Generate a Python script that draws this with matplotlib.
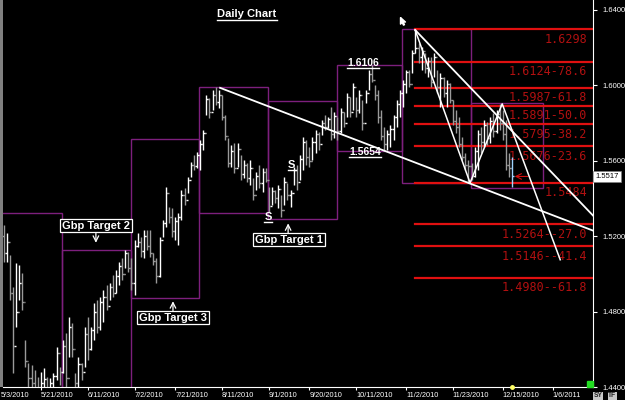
import numpy as np
import pandas as pd
import matplotlib
matplotlib.use("Agg")
import matplotlib.pyplot as plt
import matplotlib.transforms as mtransforms
from matplotlib.lines import Line2D
from matplotlib.patches import Rectangle

plt.rcParams['font.family'] = ['Liberation Sans', 'DejaVu Sans']

# GBP/USD daily bars, one per weekday counted from 5/3/2010
start_date = "2010-05-03"
first_bar = 2

highs = [1.5261, 1.5218, 1.5102, 1.4932, 1.5059, 1.5049, 1.5006, 1.4651, 1.4529, 1.4518,
         1.4492, 1.4455, 1.4481, 1.4503, 1.4455, 1.4450, 1.4476, 1.4614, 1.4508, 1.4651,
         1.4688, 1.4773, 1.4741, 1.4476, 1.4561, 1.4529, 1.4720, 1.4773, 1.4720, 1.4847,
         1.4863, 1.4879, 1.4916, 1.4942, 1.4953, 1.4996, 1.5022, 1.5064, 1.5086, 1.5128,
         1.5117, 1.5086, 1.5181, 1.5218, 1.5197, 1.5234, 1.5234, 1.5234, 1.5112, 1.5086,
         1.5197, 1.5287, 1.5462, 1.5356, 1.5351, 1.5303, 1.5324, 1.5446, 1.5457, 1.5515,
         1.5594, 1.5632, 1.5647, 1.5711, 1.5764, 1.5950, 1.5934, 1.5976, 1.5992, 1.5976,
         1.5950, 1.5844, 1.5722, 1.5685, 1.5695, 1.5695, 1.5632, 1.5605, 1.5589, 1.5605,
         1.5510, 1.5541, 1.5578, 1.5563, 1.5563, 1.5462, 1.5462, 1.5446, 1.5473, 1.5420,
         1.5515, 1.5483, 1.5446, 1.5568, 1.5578, 1.5632, 1.5727, 1.5711, 1.5674, 1.5727,
         1.5764, 1.5753, 1.5817, 1.5844, 1.5833, 1.5886, 1.5859, 1.5833, 1.5881, 1.5859,
         1.5960, 1.5939, 1.6013, 1.5939, 1.5976, 1.5923, 1.5976, 1.6082, 1.6106, 1.6003,
         1.5976, 1.5870, 1.5780, 1.5764, 1.5791, 1.5844, 1.5923, 1.5976, 1.6029, 1.6082,
         1.6082, 1.6188, 1.6298, 1.6225, 1.6204, 1.6172, 1.6151, 1.6151, 1.6172, 1.6082,
         1.6066, 1.6045, 1.6029, 1.6013, 1.5923, 1.5870, 1.5833, 1.5727, 1.5642, 1.5605,
         1.5589, 1.5674, 1.5764, 1.5780, 1.5817, 1.5806, 1.5833, 1.5854, 1.5870, 1.5902,
         1.5870, 1.5817, 1.5642, 1.5621]
lows = [1.5064, 1.5064, 1.4863, 1.4476, 1.4720, 1.4863, 1.4810, 1.4508, 1.4380, 1.4330,
        1.4280, 1.4229, 1.4300, 1.4320, 1.4350, 1.4360, 1.4340, 1.4439, 1.4413, 1.4476,
        1.4350, 1.4561, 1.4561, 1.4370, 1.4386, 1.4439, 1.4508, 1.4545, 1.4598, 1.4651,
        1.4688, 1.4704, 1.4746, 1.4810, 1.4863, 1.4879, 1.4900, 1.4942, 1.4969, 1.5033,
        1.5011, 1.4916, 1.4890, 1.5144, 1.5091, 1.5086, 1.5128, 1.5091, 1.5049, 1.4953,
        1.4985, 1.5197, 1.5250, 1.5271, 1.5197, 1.5181, 1.5155, 1.5287, 1.5366, 1.5430,
        1.5515, 1.5552, 1.5563, 1.5552, 1.5658, 1.5844, 1.5828, 1.5870, 1.5897, 1.5881,
        1.5817, 1.5711, 1.5568, 1.5568, 1.5536, 1.5568, 1.5499, 1.5510, 1.5488, 1.5473,
        1.5393, 1.5446, 1.5457, 1.5435, 1.5488, 1.5329, 1.5366, 1.5377, 1.5351, 1.5303,
        1.5366, 1.5393, 1.5356, 1.5473, 1.5446, 1.5499, 1.5552, 1.5578, 1.5568, 1.5605,
        1.5642, 1.5658, 1.5738, 1.5764, 1.5775, 1.5711, 1.5722, 1.5711, 1.5748, 1.5780,
        1.5833, 1.5833, 1.5870, 1.5833, 1.5854, 1.5764, 1.5907, 1.5976, 1.6018, 1.5923,
        1.5801, 1.5711, 1.5654, 1.5658, 1.5674, 1.5711, 1.5780, 1.5833, 1.5886, 1.5960,
        1.5992, 1.6066, 1.6172, 1.6119, 1.6082, 1.6066, 1.6045, 1.5992, 1.6045, 1.5960,
        1.5886, 1.5939, 1.5886, 1.5907, 1.5791, 1.5748, 1.5674, 1.5605, 1.5552, 1.5484,
        1.5499, 1.5515, 1.5552, 1.5642, 1.5674, 1.5685, 1.5695, 1.5727, 1.5748, 1.5764,
        1.5711, 1.5552, 1.5515, 1.5462]
closes = [1.5110, 1.5170, 1.4900, 1.4620, 1.4800, 1.4950, 1.4850, 1.4540, 1.4450, 1.4420,
          1.4380, 1.4350, 1.4420, 1.4440, 1.4390, 1.4420, 1.4460, 1.4580, 1.4480, 1.4620,
          1.4450, 1.4720, 1.4600, 1.4420, 1.4520, 1.4480, 1.4680, 1.4600, 1.4700, 1.4800,
          1.4720, 1.4850, 1.4880, 1.4830, 1.4930, 1.4900, 1.4990, 1.5040, 1.5000, 1.5110,
          1.5030, 1.4950, 1.5150, 1.5170, 1.5120, 1.5200, 1.5150, 1.5110, 1.5070, 1.4990,
          1.5180, 1.5270, 1.5430, 1.5300, 1.5230, 1.5280, 1.5300, 1.5420, 1.5390, 1.5500,
          1.5580, 1.5570, 1.5630, 1.5690, 1.5750, 1.5930, 1.5860, 1.5950, 1.5910, 1.5950,
          1.5830, 1.5730, 1.5590, 1.5650, 1.5560, 1.5660, 1.5530, 1.5580, 1.5510, 1.5560,
          1.5420, 1.5520, 1.5480, 1.5540, 1.5500, 1.5360, 1.5440, 1.5400, 1.5450, 1.5340,
          1.5490, 1.5420, 1.5430, 1.5550, 1.5490, 1.5610, 1.5700, 1.5620, 1.5600, 1.5700,
          1.5740, 1.5690, 1.5800, 1.5780, 1.5820, 1.5740, 1.5840, 1.5760, 1.5860, 1.5800,
          1.5940, 1.5860, 1.5990, 1.5870, 1.5950, 1.5800, 1.5960, 1.6060, 1.6030, 1.5950,
          1.5830, 1.5730, 1.5690, 1.5740, 1.5770, 1.5830, 1.5900, 1.5960, 1.6010, 1.6070,
          1.6010, 1.6170, 1.6200, 1.6150, 1.6180, 1.6090, 1.6130, 1.6020, 1.6150, 1.5990,
          1.6040, 1.5960, 1.6010, 1.5920, 1.5810, 1.5780, 1.5690, 1.5620, 1.5580, 1.5570,
          1.5520, 1.5650, 1.5740, 1.5700, 1.5790, 1.5720, 1.5810, 1.5760, 1.5850, 1.5800,
          1.5740, 1.5580, 1.5560, 1.5517]
first_open = 1.5200
last_price = 1.5517

# monthly high/low boxes
months = ["2010-05", "2010-06", "2010-07", "2010-08", "2010-09", "2010-10", "2010-11", "2010-12"]
month_highs = [1.5324, 1.5128, 1.5716, 1.5992, 1.5918, 1.6106, 1.6298, 1.5907]
month_lows = [1.4229, 1.4350, 1.4874, 1.5324, 1.5292, 1.5654, 1.5484, 1.5457]

# fibonacci levels off the November swing
fib_levels = [1.6298, 1.6124, 1.5987, 1.5891, 1.5795, 1.5676, 1.5484, 1.5264, 1.5146, 1.4980]
fib_labels = ["1.6298", "1.6124-78.6", "1.5987-61.8", "1.5891-50.0", "1.5795-38.2",
              "1.5676-23.6", "1.5484", "1.5264--27.0", "1.5146--41.4", "1.4980--61.8"]

# hand drawn lines (bar index, price)
trend_a_x = [71.4, 191.0]
trend_a_y = [1.5987, 1.5229]
trend_b_x = [133.9, 191.0]
trend_b_y = [1.6294, 1.5308]
zigzag_x = [133.9, 151.5, 161.8, 180.4]
zigzag_y = [1.6294, 1.5483, 1.5902, 1.5075]

tick_dates = ["2010-05-03", "2010-05-21", "2010-06-11", "2010-07-02", "2010-07-21", "2010-08-11",
              "2010-09-01", "2010-09-20", "2010-10-11", "2010-11-02", "2010-11-23", "2010-12-15",
              "2011-01-06"]
price_ticks = [1.44, 1.48, 1.52, 1.56, 1.60, 1.64]

n = len(closes)
x = first_bar + np.arange(n)
highs = np.array(highs)
lows = np.array(lows)
closes = np.array(closes)
opens = np.concatenate([[first_open], closes[:-1]])

fig = plt.figure(figsize=(6.25, 4), dpi=100, facecolor="black")
ax = fig.add_axes([3 / 625, 13 / 400, 590 / 625, 387 / 400], facecolor="black")
xmin, xmax = 1.83, 190.9
ax.set_xlim(xmin, xmax)
ax.set_ylim(1.4400, 1.6453)

# left window border
fig.add_artist(Rectangle((0, 13 / 400), 3 / 625, 387 / 400, transform=fig.transFigure,
                         color="#808080", lw=0))

# month boxes
for m, hi, lo in zip(months, month_highs, month_lows):
    m_start = pd.Timestamp(m + "-01")
    m_end = m_start + pd.offsets.MonthBegin(1)
    left = np.busday_count(start_date, m_start.strftime("%Y-%m-%d")) - 0.25
    right = np.busday_count(start_date, m_end.strftime("%Y-%m-%d")) - 0.25
    ax.add_patch(Rectangle((left, lo), right - left, hi - lo, fill=False,
                           edgecolor="#7d1f7d", lw=1.0, zorder=1))

# OHLC bars
cols = np.where(closes >= opens, "#ffffff", "#9a9a9a").astype(object)
cols[-1] = "#9fd3ff"
ax.vlines(x, lows, highs, colors=list(cols), lw=1.0, zorder=3)
ax.hlines(opens, x - 0.5, x, colors=list(cols), lw=1.0, zorder=3)
ax.hlines(closes, x, x + 0.5, colors=list(cols), lw=1.0, zorder=3)

# fib lines
fib_start = x[np.argmax(highs)]
for lvl, lab in zip(fib_levels, fib_labels):
    ax.plot([fib_start, 191], [lvl, lvl], color="#e01010", lw=1.6, zorder=2)
    ax.annotate(lab, xy=(189.0, lvl), xytext=(0, -2.5), textcoords="offset points",
                ha="right", va="top", fontsize=8.5, color="#b01010",
                family="DejaVu Sans Mono", zorder=2)

# trend lines
ax.plot(trend_a_x, trend_a_y, color="white", lw=1.3, zorder=4)
ax.plot(trend_b_x, trend_b_y, color="white", lw=1.3, zorder=4)
ax.plot(zigzag_x, zigzag_y, color="white", lw=1.1, zorder=4)

# annotations
txt_kw = dict(color="white", fontsize=8, fontweight="bold", ha="center", va="center", zorder=5)
underlined = []
underlined.append(ax.text(80.0, 1.6378, "Daily Chart", **txt_kw))
underlined.append(ax.text(117.2, 1.6119, "1.6106", **{**txt_kw, "fontsize": 7.5}))
underlined.append(ax.text(117.8, 1.5647, "1.5654", **{**txt_kw, "fontsize": 7.5}))
underlined.append(ax.text(94.4, 1.5578, "S", **txt_kw))
underlined.append(ax.text(86.8, 1.5303, "S", **txt_kw))

box = dict(boxstyle="square,pad=0.15", facecolor="black", edgecolor="white", lw=0.9)
ax.text(31.6, 1.5255, "Gbp Target 2", bbox=box, **txt_kw)
ax.text(56.3, 1.4768, "Gbp Target 3", bbox=box, **txt_kw)
ax.text(93.5, 1.5181, "Gbp Target 1", bbox=box, **txt_kw)

arrow = dict(arrowstyle="->", color="white", lw=0.9, shrinkA=0, shrinkB=0)
ax.annotate("", xy=(31.6, 1.5165), xytext=(31.6, 1.5215), arrowprops=arrow)
ax.annotate("", xy=(56.3, 1.4855), xytext=(56.3, 1.4805), arrowprops=arrow)
ax.annotate("", xy=(93.2, 1.5268), xytext=(93.2, 1.5218), arrowprops=arrow)
ax.annotate("", xy=(x[-1] + 0.8, last_price), xytext=(x[-1] + 5.0, last_price),
            arrowprops=dict(arrowstyle="->", color="#d01010", lw=0.8, shrinkA=0, shrinkB=0))

# mouse pointer
pointer = [(0, 0), (0, -10), (2.5, -7.5), (4.5, -11.5), (6, -10.8), (4, -6.8), (7.5, -6.8), (0, 0)]
ax.plot(129.1, 1.6363, marker=pointer, color="white", markersize=11, zorder=6, clip_on=False)

# axes styling
for s in ["top", "left"]:
    ax.spines[s].set_visible(False)
ax.spines["right"].set_color("white")
ax.spines["bottom"].set_color("white")
ax.yaxis.tick_right()
ax.set_yticks(price_ticks)
ax.set_yticklabels([f"{p:.4f}" for p in price_ticks])
ax.tick_params(axis="y", colors="white", labelsize=5.5, length=3, pad=4)
for lbl in ax.get_yticklabels():
    lbl.set_horizontalalignment("left")

tick_idx = [int(np.busday_count(start_date, d)) for d in tick_dates]
tick_txt = [pd.Timestamp(d).strftime("%-m/%-d/%Y") for d in tick_dates]
ax.set_xticks([t for t in tick_idx if t > xmin])
ax.set_xticklabels([])
ax.tick_params(axis="x", colors="white", length=2)
date_tf = mtransforms.blended_transform_factory(ax.transData, ax.transAxes)
for t, s in zip(tick_idx, tick_txt):
    ax.text(max(t, xmin - 0.6), -0.012, s, transform=date_tf,
            ha="left", va="top", fontsize=5.3, color="white", clip_on=False)

# last price tag and markers
ax.text(1.004, last_price, f"{last_price:.4f}",
        transform=mtransforms.blended_transform_factory(ax.transAxes, ax.transData),
        ha="left", va="center", fontsize=5.5, color="black",
        bbox=dict(boxstyle="square,pad=0.25", facecolor="white", edgecolor="#808080", lw=0.5))
ax.plot(x[-1], 1.4400, marker="o", color="#ffff66", markersize=2.5, clip_on=False, zorder=6)
ax.plot(0.9945, 0.008, marker="s", color="#22dd22", markersize=5, transform=ax.transAxes,
        clip_on=False, zorder=6)
for xx, s in [(0.9565, "SY"), (0.9800, "TF")]:
    fig.text(xx, 0.0105, s, fontsize=4.8, fontweight="bold", color="#202020", ha="center", va="center",
             bbox=dict(boxstyle="square,pad=0.1", facecolor="#c8c8c8", edgecolor="none"))

# underline the chart notes
fig.canvas.draw()
for t in underlined:
    bb = t.get_window_extent()
    fig.add_artist(Line2D([bb.x0, bb.x1], [bb.y0 - 0.5, bb.y0 - 0.5], color="white", lw=1.0,
                          transform=mtransforms.IdentityTransform()))

fig.savefig("out.png", dpi=100, facecolor="black")
